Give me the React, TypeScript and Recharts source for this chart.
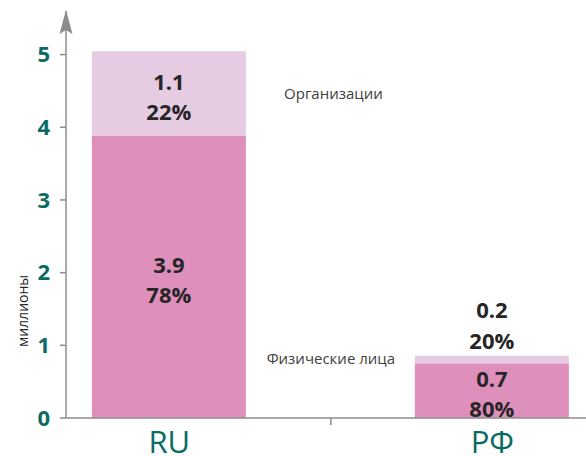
import { BarChart, Bar, XAxis, YAxis, LabelList, ReferenceDot, Label } from "recharts";

// millions
const categories = ["RU", "РФ"];
const individuals = [3.88, 0.755];
const organizations = [1.165, 0.1];
const individualLabels = [["3.9", "78%"], ["0.7", "80%"]];
const organizationLabels = [["1.1", "22%"], ["0.2", "20%"]];
const yTicks = [0, 1, 2, 3, 4, 5];
const xTicks = [0, 0.5, 1];
const notes = ["Организации", "Физические лица"];
const noteX = [0.508, 0.5];
const noteY = [4.47, 0.83];

const data = categories.map((name, i) => ({ pos: i, name, individuals: individuals[i], organizations: organizations[i] }));

const TEAL = "#0b6b63";
const AXIS = "#8c8c8c";
const FONT = "'Open Sans', sans-serif";

function XTick(p: any) {
  const { x, y, payload } = p;
  const v = payload.value;
  if (v === 0.5) return <line x1={x} y1={y} x2={x} y2={y + 7} stroke={AXIS} strokeWidth={1.5} />;
  return <text x={x} y={y + 23} textAnchor="middle" dominantBaseline="central" fill={TEAL} fontSize={31} fontFamily={FONT}>{categories[v]}</text>;
}

const segLabel = (lines: string[][]) => (p: any) => {
  const vb = p.viewBox ?? p;
  const { x, y, width, height } = vb;
  const pair = lines[p.index];
  if (!pair) return null;
  const cx = x + width / 2;
  let y1: number, y2: number;
  if (height > 50) { const cy = y + height / 2; y1 = cy - 13; y2 = cy + 17; }
  else { y1 = y - 47; y2 = y - 16; }
  const st = { fontSize: 22, fontWeight: 700, fill: "#262626", fontFamily: FONT };
  return <g>
    <text x={cx} y={y1} textAnchor="middle" dominantBaseline="central" {...st}>{pair[0]}</text>
    <text x={cx} y={y2} textAnchor="middle" dominantBaseline="central" {...st}>{pair[1]}</text>
  </g>;
};

const Arrow = (p: any) => <path d={`M${p.cx},${p.cy - 1} L${p.cx + 6.5},${p.cy + 23} L${p.cx},${p.cy + 19} L${p.cx - 6.5},${p.cy + 23} Z`} fill={AXIS} />;
const note = (t: string) => (p: any) => <text x={p.cx} y={p.cy} textAnchor="middle" dominantBaseline="central" fontSize={15} fill="#404040" fontFamily={FONT}>{t}</text>;

export default function App() {
  return <div style={{ position: "absolute", left: 0, top: 0, fontFamily: FONT }}>
    <BarChart width={586} height={456} data={data} margin={{ top: 11, right: 0, bottom: 0, left: 0 }}>
      <XAxis dataKey="pos" type="number" domain={[-0.32, 1.29]} ticks={xTicks} allowDataOverflow tick={<XTick />} tickLine={false} tickSize={0} tickMargin={0} height={38} axisLine={{ stroke: AXIS, strokeWidth: 1.5 }} />
      <YAxis type="number" domain={[0, 5.6]} ticks={yTicks} width={66} tickSize={6} tickMargin={10} axisLine={{ stroke: AXIS, strokeWidth: 1.5 }} tickLine={{ stroke: AXIS, strokeWidth: 1.5 }} tick={{ fill: TEAL, fontSize: 22, fontWeight: 700, fontFamily: FONT }}>
        <Label content={(p: any) => <text x={(p.viewBox?.x ?? 0) + 22} y={311} transform={`rotate(-90 ${(p.viewBox?.x ?? 0) + 22} 311)`} textAnchor="middle" dominantBaseline="central" fontSize={14} fill="#262626" fontFamily={FONT}>миллионы</text>} />
      </YAxis>
      <Bar dataKey="individuals" stackId="a" fill="#df8fbc" barSize={154} isAnimationActive={false}>
        <LabelList dataKey="individuals" content={segLabel(individualLabels)} />
      </Bar>
      <Bar dataKey="organizations" stackId="a" fill="#e5cce3" barSize={154} isAnimationActive={false}>
        <LabelList dataKey="organizations" content={segLabel(organizationLabels)} />
      </Bar>
      <ReferenceDot x={-0.32} y={5.6} ifOverflow="visible" shape={Arrow} />
      {notes.map((t, i) => <ReferenceDot key={t} x={noteX[i]} y={noteY[i]} ifOverflow="visible" shape={note(t)} />)}
    </BarChart>
  </div>;
}
